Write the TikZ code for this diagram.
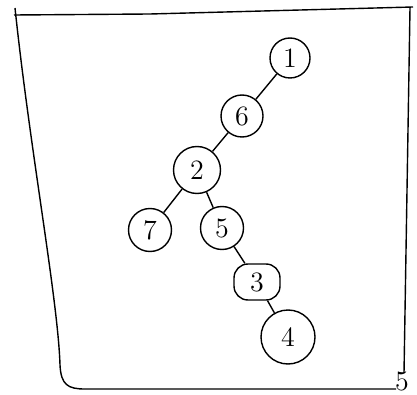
\documentclass[tikz,border=0pt]{standalone}
\begin{document}
\begin{tikzpicture}[x=0.5pt,y=-0.5pt,line width=0.7pt,
    vertex/.style={draw,circle,inner sep=0pt,font=\fontsize{14}{16}\selectfont},
    flatvertex/.style={draw,rounded corners=7pt,inner sep=0pt,minimum width=23pt,minimum height=18pt,font=\fontsize{14}{16}\selectfont}]
    \useasboundingbox (0,0) rectangle (417,395);
    \draw (14,15) -- (150,14) -- (413,7);
    \draw (15,8) .. controls (30,150) and (58,300) .. (60,365) .. controls (61,385) and (68,389) .. (85,389) -- (396,389);
    \draw (410,8) -- (404,373);
    \node[vertex,minimum size=20pt] (n1) at (290,58) {1};
    \node[vertex,minimum size=21pt] (n6) at (242,116) {6};
    \node[vertex,minimum size=23.5pt] (n2) at (197,170) {2};
    \node[vertex,minimum size=21.5pt] (n7) at (150,230) {7};
    \node[vertex,minimum size=21.5pt] (n5) at (222,228) {5};
    \node[flatvertex] (n3) at (257,282) {3};
    \node[vertex,minimum size=27pt] (n4) at (288,337) {4};
    \node[font=\fontsize{14}{16}\selectfont,inner sep=0pt] (five) at (402,381) {5};
    \draw (n1) -- (n6) -- (n2) -- (n7);
    \draw (n2) -- (n5) -- (n3) -- (n4);
\end{tikzpicture}
\end{document}
